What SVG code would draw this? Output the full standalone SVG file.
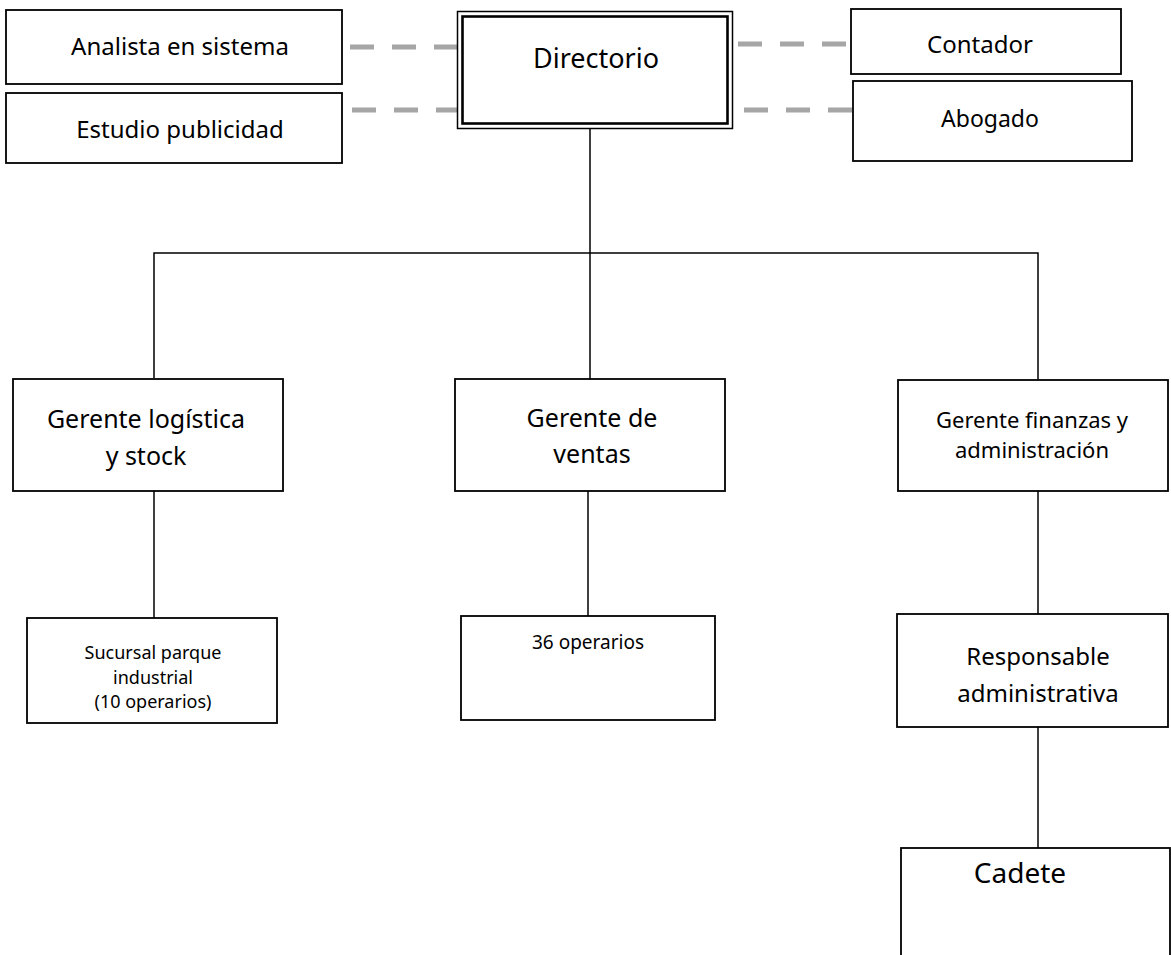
<svg xmlns="http://www.w3.org/2000/svg" width="1171" height="955" viewBox="0 0 1171 955">
<style>
.box{fill:#fff;stroke:#000;stroke-width:1.8}
.ln{fill:none;stroke:#000;stroke-width:1.5}
.dash{fill:none;stroke:#a6a6a6;stroke-width:5;stroke-dasharray:24 18}
text{font-family:"Noto Sans","DejaVu Sans",sans-serif;fill:#000;text-anchor:middle}
</style>
<rect width="1171" height="955" fill="#fff"/>
<g id="connectors">
<line class="dash" x1="350" y1="47" x2="458" y2="47"/>
<line class="dash" x1="352" y1="110" x2="460" y2="110"/>
<line class="dash" x1="738" y1="44" x2="851" y2="44"/>
<line class="dash" x1="744" y1="110" x2="853" y2="110"/>
<line class="ln" x1="590" y1="129" x2="590" y2="379"/>
<polyline class="ln" points="154,378 154,253 1038,253 1038,379"/>
<line class="ln" x1="154" y1="491" x2="154" y2="618"/>
<line class="ln" x1="588" y1="491" x2="588" y2="616"/>
<line class="ln" x1="1038" y1="491" x2="1038" y2="614"/>
<line class="ln" x1="1038" y1="727" x2="1038" y2="848"/>
</g>
<g id="analista">
<rect class="box" x="6" y="10" width="336" height="74"/>
<text x="180" y="55" font-size="24">Analista en sistema</text>
</g>
<g id="estudio">
<rect class="box" x="6" y="93" width="336" height="70"/>
<text x="180" y="138" font-size="24">Estudio publicidad</text>
</g>
<g id="directorio">
<rect x="457.5" y="11.5" width="275" height="117" fill="#fff" stroke="#000" stroke-width="1.5"/>
<rect x="462.5" y="16.5" width="265" height="107" fill="none" stroke="#000" stroke-width="2.6"/>
<text x="596" y="68" font-size="27">Directorio</text>
</g>
<g id="contador">
<rect class="box" x="851" y="9" width="270" height="65"/>
<text x="980" y="53" font-size="24">Contador</text>
</g>
<g id="abogado">
<rect class="box" x="853" y="81" width="279" height="80"/>
<text x="990" y="127" font-size="23">Abogado</text>
</g>
<g id="g-logistica">
<rect class="box" x="13" y="379" width="270" height="112"/>
<text x="146" y="428" font-size="25">Gerente logística</text>
<text x="146" y="465" font-size="25">y stock</text>
</g>
<g id="g-ventas">
<rect class="box" x="455" y="379" width="270" height="112"/>
<text x="592" y="427" font-size="25">Gerente de</text>
<text x="592" y="463" font-size="25">ventas</text>
</g>
<g id="g-finanzas">
<rect class="box" x="898" y="380" width="270" height="111"/>
<text x="1032" y="428" font-size="22">Gerente finanzas y</text>
<text x="1032" y="458" font-size="22">administración</text>
</g>
<g id="sucursal">
<rect class="box" x="27" y="618" width="250" height="105"/>
<text x="153" y="659" font-size="18">Sucursal parque</text>
<text x="153" y="683.5" font-size="18">industrial</text>
<text x="153" y="708" font-size="18">(10 operarios)</text>
</g>
<g id="operarios">
<rect class="box" x="461" y="616" width="254" height="104"/>
<text x="588" y="649" font-size="19">36 operarios</text>
</g>
<g id="responsable">
<rect class="box" x="897" y="614" width="271" height="113"/>
<text x="1038" y="665" font-size="24">Responsable</text>
<text x="1038" y="702" font-size="24">administrativa</text>
</g>
<g id="cadete">
<rect class="box" x="901" y="848" width="269" height="120"/>
<text x="1020" y="883" font-size="28">Cadete</text>
</g>
</svg>
